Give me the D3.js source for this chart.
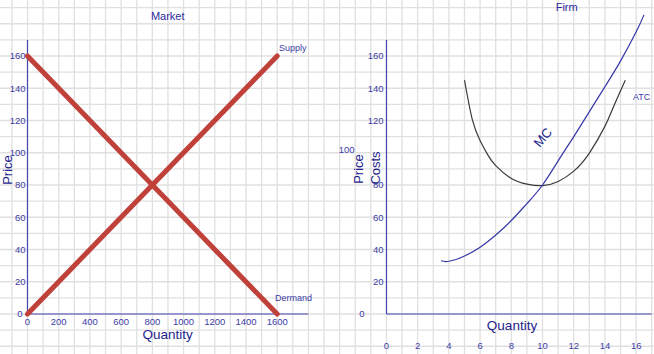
<!DOCTYPE html>
<html>
<head>
<meta charset="utf-8">
<script src="https://cdn.jsdelivr.net/npm/d3@7"></script>
<style>
  body { margin: 0; background: #fff; }
  svg { display: block; font-family: "Liberation Sans", Arial, sans-serif; }
</style>
</head>
<body>
<div id="chart"></div>
<script>
// market (left) data
var marketQty = [0, 1600];
var supplyPrice = [0, 160];
var demandPrice = [160, 0];
var marketXTicks = [0, 200, 400, 600, 800, 1000, 1200, 1400, 1600];
var priceTicks = [0, 20, 40, 60, 80, 100, 120, 140, 160];

// firm (right) data
var mcQty = [3.5, 4, 5, 6, 7, 8, 9, 10, 11, 12, 13, 14, 15, 16, 16.5];
var mcCost = [33, 32.7, 36, 41.4, 49, 58, 68.5, 80, 95, 110, 125.5, 141, 157, 175, 185.5];
var atcQty = [5, 5.5, 6, 6.5, 7, 8, 9, 10, 11, 12, 13, 14, 14.5, 15.3];
var atcCost = [145, 120.5, 107.5, 98.5, 92, 84, 80.5, 79.6, 82.2, 88.6, 99.8, 116.5, 127.5, 145];
var firmXTicks = [0, 2, 4, 6, 8, 10, 12, 14, 16];

var W = 654, H = 354;
var axisCol = "#4646b4", tickCol = "#3c3ca6", titleCol = "#1e1e8c";
var red = "#c0403a";

var svg = d3.select("#chart").append("svg")
    .attr("width", W).attr("height", H);

// scales, both panels share the same price scale and grid
var xL = d3.scaleLinear().domain([0, 1600]).range([27.5, 277.2]);
var xR = d3.scaleLinear().domain([0, 16]).range([386.5, 636.2]);
var y = d3.scaleLinear().domain([0, 160]).range([314, 56]);

// background grid
var gx = d3.range(-2, 44).map(function (k) { return xL(k * 100); });
var gy = d3.range(-3, 21).map(function (k) { return y(k * 10); });
svg.append("g").selectAll("line").data(gx).enter().append("line")
    .attr("x1", function (d) { return d; }).attr("x2", function (d) { return d; })
    .attr("y1", 0).attr("y2", H)
    .attr("stroke", "#e0e0e0").attr("stroke-width", 1.3);
svg.append("g").selectAll("line").data(gy).enter().append("line")
    .attr("y1", function (d) { return d; }).attr("y2", function (d) { return d; })
    .attr("x1", 0).attr("x2", W)
    .attr("stroke", "#e0e0e0").attr("stroke-width", 1.3);

function axisLines(xs, xMax) {
    svg.append("line").attr("x1", xs(0)).attr("x2", xs(0))
        .attr("y1", y(0)).attr("y2", y(170))
        .attr("stroke", axisCol).attr("stroke-width", 1.2);
    svg.append("line").attr("x1", xs(0)).attr("x2", xs(xMax))
        .attr("y1", y(0)).attr("y2", y(0))
        .attr("stroke", axisCol).attr("stroke-width", 1.2);
}

// ---- Market ----
axisLines(xL, 1800);

svg.append("g").selectAll("text").data(priceTicks).enter().append("text")
    .attr("x", function (d) { return d == 0 ? xL(0) - 5 : xL(0) - 2; })
    .attr("y", function (d) { return y(d); })
    .attr("dy", "0.35em").attr("text-anchor", "end")
    .attr("font-size", "9.5px").attr("fill", tickCol)
    .text(function (d) { return d; });

svg.append("g").selectAll("text").data(marketXTicks).enter().append("text")
    .attr("x", function (d) { return xL(d); })
    .attr("y", y(0) + 11)
    .attr("text-anchor", "middle")
    .attr("font-size", "9.5px").attr("fill", tickCol)
    .text(function (d) { return d; });

var line = d3.line()
    .x(function (d) { return d[0]; })
    .y(function (d) { return d[1]; });

svg.append("path")
    .datum(marketQty.map(function (q, i) { return [xL(q), y(supplyPrice[i])]; }))
    .attr("d", line).attr("fill", "none")
    .attr("stroke", red).attr("stroke-width", 5).attr("stroke-linecap", "round");
svg.append("path")
    .datum(marketQty.map(function (q, i) { return [xL(q), y(demandPrice[i])]; }))
    .attr("d", line).attr("fill", "none")
    .attr("stroke", red).attr("stroke-width", 5).attr("stroke-linecap", "round");

svg.append("text").attr("x", 167.7).attr("y", 20)
    .attr("text-anchor", "middle").attr("font-size", "11px").attr("fill", "#2a2a9c")
    .text("Market");
svg.append("text").attr("x", 279).attr("y", 51)
    .attr("font-size", "9px").attr("fill", tickCol).text("Supply");
svg.append("text").attr("x", 275).attr("y", 301)
    .attr("font-size", "9px").attr("fill", tickCol).text("Dermand");
svg.append("text").attr("x", 167.7).attr("y", 339)
    .attr("text-anchor", "middle").attr("font-size", "13.5px").attr("fill", titleCol)
    .text("Quantity");
svg.append("text").attr("transform", "translate(12,170) rotate(-90)")
    .attr("text-anchor", "middle").attr("font-size", "13px").attr("fill", titleCol)
    .text("Price");

// ---- Firm ----
axisLines(xR, 17);

svg.append("g").selectAll("text").data(priceTicks).enter().append("text")
    .attr("x", function (d) {
        if (d == 0) return xR(0) - 22;
        if (d == 100) return xR(0) - 32;
        return xR(0) - 3;
    })
    .attr("y", function (d) { return d == 100 ? y(d) - 3 : y(d); })
    .attr("dy", "0.35em").attr("text-anchor", "end")
    .attr("font-size", "9.5px").attr("fill", tickCol)
    .text(function (d) { return d; });

svg.append("g").selectAll("text").data(firmXTicks).enter().append("text")
    .attr("x", function (d) { return xR(d); })
    .attr("y", 349)
    .attr("text-anchor", "middle")
    .attr("font-size", "9.5px").attr("fill", tickCol)
    .text(function (d) { return d; });

var curve = d3.line()
    .x(function (d) { return d[0]; })
    .y(function (d) { return d[1]; })
    .curve(d3.curveNatural);

svg.append("path")
    .datum(atcQty.map(function (q, i) { return [xR(q), y(atcCost[i])]; }))
    .attr("d", curve).attr("fill", "none")
    .attr("stroke", "#3a3a3a").attr("stroke-width", 1.2);
svg.append("path")
    .datum(mcQty.map(function (q, i) { return [xR(q), y(mcCost[i])]; }))
    .attr("d", curve).attr("fill", "none")
    .attr("stroke", "#3535a8").attr("stroke-width", 1.2);

svg.append("text").attr("x", 566.7).attr("y", 11)
    .attr("text-anchor", "middle").attr("font-size", "11px").attr("fill", "#2a2a9c")
    .text("Firm");
svg.append("text").attr("x", 633).attr("y", 100)
    .attr("font-size", "9px").attr("fill", tickCol).text("ATC");
svg.append("text").attr("transform", "translate(542.7,137.3) rotate(-50)")
    .attr("text-anchor", "middle").attr("dy", "0.35em")
    .attr("font-size", "13px").attr("fill", titleCol).text("MC");
svg.append("text").attr("x", 512).attr("y", 330)
    .attr("text-anchor", "middle").attr("font-size", "13.5px").attr("fill", titleCol)
    .text("Quantity");
svg.append("text").attr("transform", "translate(363,169) rotate(-90)")
    .attr("text-anchor", "middle").attr("font-size", "13px").attr("fill", titleCol)
    .text("Price");
svg.append("text").attr("transform", "translate(380,168) rotate(-90)")
    .attr("text-anchor", "middle").attr("font-size", "13px").attr("fill", titleCol)
    .text("Costs");
</script>
</body>
</html>
